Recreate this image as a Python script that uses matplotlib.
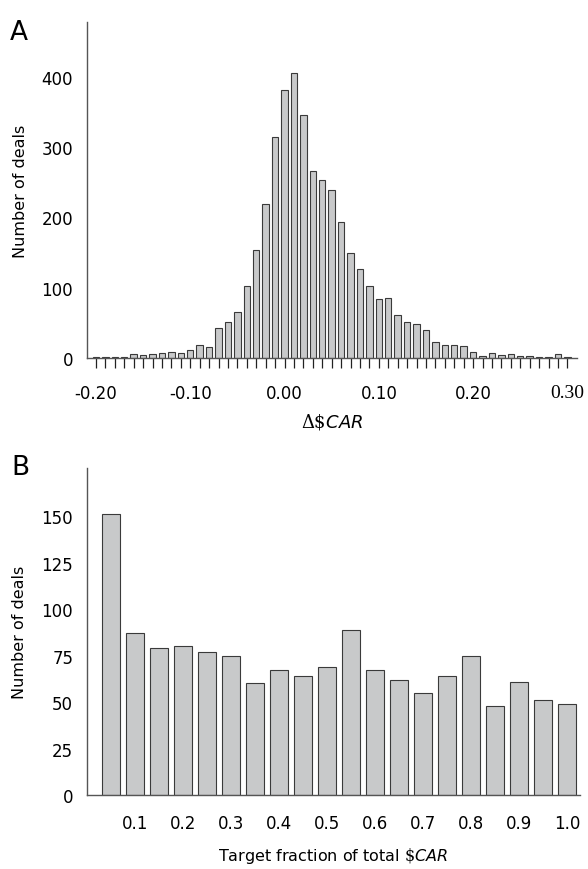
import matplotlib
matplotlib.use("Agg")
import matplotlib.pyplot as plt
import numpy as np
from matplotlib.ticker import FixedLocator, FixedFormatter, NullFormatter

plt.rcParams['font.family'] = ['DejaVu Sans']
plt.rcParams['mathtext.fontset'] = 'custom'
plt.rcParams['mathtext.rm'] = 'DejaVu Serif'
plt.rcParams['mathtext.it'] = 'DejaVu Sans:italic'

# Panel A data: histogram of delta $CAR, bins of 0.01 from -0.20 to 0.30
car_bins = np.round(np.arange(-0.20, 0.3001, 0.01), 2)
car_counts = [1, 1, 1, 1, 5, 4, 5, 7, 9, 7,
              12, 19, 16, 42, 51, 65, 102, 153, 219, 315,
              381, 405, 345, 266, 253, 239, 193, 149, 126, 103,
              84, 85, 61, 51, 48, 40, 23, 18, 19, 17,
              8, 3, 7, 4, 5, 3, 3, 2, 1, 5, 1]
car_ticks = [-0.20, -0.10, 0.00, 0.10, 0.20, 0.30]
car_ticklabels = ['-0.20', '-0.10', '0.00', '0.10', '0.20', '0.30']

# Panel B data: target fraction of total $CAR
frac_bins = np.round(np.arange(0.05, 1.0001, 0.05), 2)
frac_counts = [151, 87, 79, 80, 77, 75, 60, 67, 64, 69,
               89, 67, 62, 55, 64, 75, 48, 61, 51, 49]
frac_ticks = [0.1, 0.2, 0.3, 0.4, 0.5, 0.6, 0.7, 0.8, 0.9, 1.0]
frac_ticklabels = ['0.1', '0.2', '0.3', '0.4', '0.5', '0.6', '0.7', '0.8', '0.9', '1.0']

face = '#c8c9ca'
edge = '#3a3a3a'
spine_c = '#555555'
fs_tick = 12
fs_lab = 11.5

fig = plt.figure(figsize=(5.88, 8.70), dpi=100)
axA = fig.add_axes([0.148, 0.5874, 0.833, 0.3862])
axB = fig.add_axes([0.148, 0.0851, 0.838, 0.3759])

# ---- Panel A
axA.bar(car_bins, car_counts, width=0.0068, color=face, edgecolor=edge, linewidth=0.8)
axA.set_xlim(-0.2095, 0.310)
axA.set_ylim(0, 478)
axA.set_yticks([0, 100, 200, 300, 400])
axA.tick_params(axis='y', length=0, pad=10, labelsize=fs_tick)
axA.xaxis.set_major_locator(FixedLocator(car_ticks))
axA.xaxis.set_major_formatter(FixedFormatter(car_ticklabels))
axA.xaxis.set_minor_locator(FixedLocator(list(car_bins)))
axA.xaxis.set_minor_formatter(NullFormatter())
axA.tick_params(axis='x', which='both', length=7, width=0.9, color='#222222',
                direction='out', labelsize=fs_tick, pad=12)
axA.set_ylabel('Number of deals', fontsize=fs_lab, labelpad=10)
axA.set_xlabel(r'$\Delta\$\mathit{CAR}$', fontsize=13, labelpad=6)
for s in ['top', 'right']:
    axA.spines[s].set_visible(False)
for s in ['left', 'bottom']:
    axA.spines[s].set_color(spine_c)
    axA.spines[s].set_linewidth(1.0)
fig.text(0.017, 0.962, 'A', fontsize=19, va='center', ha='left')

# ---- Panel B
axB.bar(frac_bins, frac_counts, width=0.038, color=face, edgecolor=edge, linewidth=0.8)
axB.set_xlim(0.0, 1.027)
axB.set_ylim(0, 176)
axB.set_yticks([0, 25, 50, 75, 100, 125, 150])
axB.tick_params(axis='y', length=0, pad=10, labelsize=fs_tick)
axB.set_xticks(frac_ticks)
axB.set_xticklabels(frac_ticklabels)
axB.tick_params(axis='x', length=0, pad=14, labelsize=fs_tick)
axB.set_ylabel('Number of deals', fontsize=fs_lab, labelpad=10)
axB.set_xlabel(r'Target fraction of total $\$\mathit{CAR}$', fontsize=fs_lab, labelpad=9)
for s in ['top', 'right']:
    axB.spines[s].set_visible(False)
for s in ['left', 'bottom']:
    axB.spines[s].set_color(spine_c)
    axB.spines[s].set_linewidth(1.0)
fig.text(0.020, 0.462, 'B', fontsize=19, va='center', ha='left')

fig.canvas.draw()
for tick in axA.xaxis.get_major_ticks():
    if tick.label1.get_text() == '0.30':
        tick.label1.set_fontfamily('Liberation Serif')
        tick.label1.set_fontsize(14)

fig.savefig('out.png', dpi=100)
